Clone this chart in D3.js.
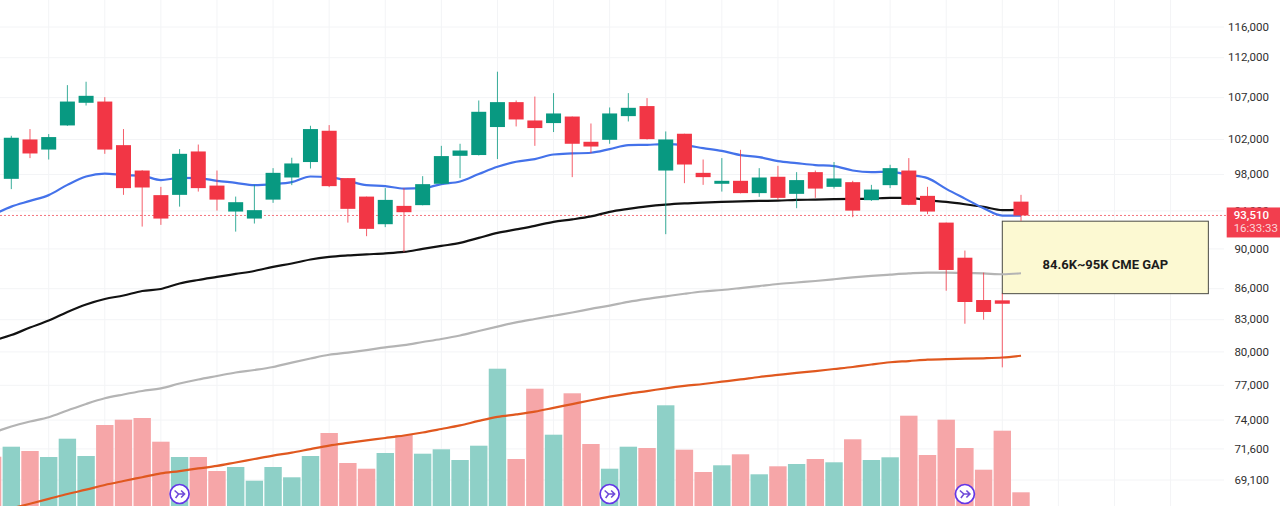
<!DOCTYPE html>
<html>
<head>
<meta charset="utf-8">
<script src="https://cdn.jsdelivr.net/npm/d3@7"></script>
<style>
  html, body { margin: 0; padding: 0; background: #fff; overflow: hidden; }
  text { font-family: Roboto, sans-serif; }
</style>
</head>
<body>
<div id="chart"></div>
<script>
var svgWidth = 1280;
var svgHeight = 506;

var green = "#089981";
var red = "#f23645";

// open, high, low, close per candle
var candles = [
  [97510, 102430, 96370, 102200], [102000, 103220, 99850, 100380], [100830, 102630, 99690, 102280],
  [103650, 108540, 103600, 106520], [106370, 108960, 106040, 107220], [106520, 107060, 100340, 100830],
  [101340, 103220, 95740, 96480], [98440, 98480, 92330, 96550], [95710, 96620, 92510, 93180],
  [95740, 100880, 94460, 100340], [100610, 101410, 96100, 96480], [96760, 98440, 94030, 95220],
  [93930, 95550, 91800, 94940], [93180, 96840, 92650, 94080], [95220, 98710, 94870, 98180],
  [97660, 99890, 96810, 99240], [99400, 103610, 98670, 103220], [103020, 103690, 96590, 96700],
  [97590, 97590, 92750, 94220], [95550, 95550, 91320, 92090], [92580, 96480, 92270, 95190],
  [94540, 96480, 89660, 93860], [94620, 97810, 94600, 96920], [96960, 101260, 96900, 100080],
  [100110, 101500, 97590, 100720], [100200, 106650, 100150, 105280], [103460, 110220, 99740, 106450],
  [106450, 106650, 103530, 104360], [104240, 107130, 101260, 103340], [103930, 107550, 102870, 105080],
  [104710, 104710, 97700, 101500], [101730, 103880, 100420, 101180], [101960, 105800, 101500, 105080],
  [104760, 107550, 104120, 105760], [105970, 106940, 102000, 102040], [98440, 102940, 91530, 102000],
  [102670, 102670, 97030, 99120], [98180, 99690, 96840, 97700], [96960, 99850, 96100, 97290],
  [97290, 100800, 95900, 95930], [95930, 98710, 95520, 97660], [97740, 98970, 95190, 95410],
  [95850, 98260, 94290, 97370], [98260, 98440, 95410, 96430], [96620, 99400, 96430, 97550],
  [97140, 97290, 93330, 94030], [95160, 96840, 95080, 96320], [96810, 99090, 96480, 98710],
  [98440, 99850, 94620, 94650], [95630, 96620, 93650, 93930], [92750, 92750, 85800, 87860],
  [89100, 89830, 82620, 84700], [84890, 87590, 83000, 83740], [84860, 85520, 78600, 84530],
  [95000, 95740, 92930, 93510]
].map(function(d, i) {
  return { i: i, open: d[0], high: d[1], low: d[2], close: d[3] };
});

// volume has no axis in the picture, so the units are arbitrary. First bar sits one slot left of candle 0
var volumes = [
  ["r", 49.3], ["g", 59.3], ["r", 55], ["g", 49], ["g", 67.3], ["g", 50], ["r", 81], ["r", 86.3], ["r", 88],
  ["r", 64.3], ["g", 49], ["r", 49], ["r", 35], ["g", 39], ["g", 25.3], ["g", 39], ["g", 28.7], ["g", 50],
  ["r", 73], ["r", 43], ["r", 37.3], ["g", 53], ["r", 71], ["g", 52.3], ["g", 56.7], ["g", 46], ["g", 60.3],
  ["g", 137.3], ["r", 47], ["r", 117.3], ["g", 71.3], ["r", 112.7], ["r", 62], ["g", 37.3], ["g", 59.3],
  ["r", 58], ["g", 100.7], ["r", 56.3], ["r", 34], ["g", 40.7], ["r", 51.7], ["g", 31.7], ["r", 39.7],
  ["g", 42], ["r", 47], ["g", 43.7], ["r", 66.7], ["g", 46], ["g", 48.7], ["r", 90.3], ["r", 51], ["r", 86.3],
  ["r", 58], ["r", 36.3], ["r", 75.3], ["r", 13.7]
].map(function(d, i) {
  return { i: i - 1, dir: d[0], vol: d[1] };
});

// moving averages, also starting one slot left of candle 0
var maBlue = [93570, 94460, 95080, 95710, 96840, 97770, 98100, 97930, 97850, 97370, 97620, 97590, 97290, 97070,
  96810, 96920, 97140, 97770, 97700, 97290, 96810, 96700, 96430, 96480, 96920, 97210, 98040, 98860, 99430, 99740,
  100260, 100380, 100460, 100880, 101340, 101380, 101460, 101340, 101000, 100680, 100200, 99970, 99510, 99280,
  99060, 98940, 98440, 98260, 98300, 97960, 97590, 96400, 95330, 94290, 93500, 93500];
var maBlack = [81040, 81560, 82260, 82920, 83740, 84460, 84990, 85330, 85770, 85970, 86510, 86860, 87160, 87460,
  87760, 88170, 88510, 88920, 89180, 89330, 89440, 89540, 89690, 90000, 90310, 90620, 91140, 91660, 92030, 92410,
  92830, 93090, 93410, 93900, 94220, 94490, 94680, 94810, 94900, 94970, 95030, 95080, 95110, 95190, 95220, 95270,
  95300, 95330, 95410, 95410, 95160, 94970, 94720, 94430, 94080, 94110];
var maGrey = [72920, 73460, 73880, 74240, 74820, 75380, 75870, 76200, 76500, 76740, 77160, 77520, 77830, 78140,
  78360, 78630, 79030, 79400, 79740, 79940, 80170, 80420, 80630, 80910, 81190, 81520, 81940, 82350, 82750, 83070,
  83380, 83690, 84030, 84350, 84710, 85000, 85250, 85500, 85720, 85870, 86060, 86260, 86460, 86610, 86760, 86930,
  87110, 87260, 87390, 87510, 87590, 87590, 87560, 87510, 87430, 87530];
var maOrange = [66540, 66890, 67250, 67620, 68000, 68340, 68710, 69020, 69320, 69620, 69810, 70020, 70220, 70500,
  70780, 71060, 71300, 71590, 71870, 72090, 72300, 72500, 72710, 72960, 73250, 73550, 73930, 74270, 74480, 74720,
  75040, 75370, 75700, 76010, 76280, 76500, 76740, 76950, 77120, 77320, 77520, 77740, 77920, 78100, 78270, 78450,
  78630, 78860, 79060, 79170, 79290, 79350, 79380, 79420, 79490, 79650];

var priceTicks = [116000, 112000, 107000, 102000, 98000, 94000, 90000, 86000, 83000, 80000, 77000, 74000, 71600, 69100];
var gridSlots = d3.range(2, 64, 3);
var eventSlots = [9, 32, 51];
var lastPrice = 93510;

var svg = d3.select("#chart")
  .append("svg")
  .attr("width", svgWidth)
  .attr("height", svgHeight)
  .style("display", "block");

// Create scale functions
var xScale = d3.scaleLinear().domain([0, 54]).range([11.3, 1021]);
var yScale = d3.scaleLog().domain([69100, 116000]).range([480, 27]);
var volScale = d3.scaleLinear().domain([0, 137]).range([506, 369]);

// Grid
svg.append("g").selectAll("line")
  .data(priceTicks)
  .enter()
  .append("line")
  .attr("x1", 0)
  .attr("x2", 1224)
  .attr("y1", d => yScale(d))
  .attr("y2", d => yScale(d))
  .attr("stroke", "#f3f4f6");

svg.append("g").selectAll("line")
  .data(gridSlots)
  .enter()
  .append("line")
  .attr("x1", d => xScale(d))
  .attr("x2", d => xScale(d))
  .attr("y1", 0)
  .attr("y2", svgHeight)
  .attr("stroke", "#f3f4f6");

// Volume bars
svg.append("g").selectAll("rect")
  .data(volumes)
  .enter()
  .append("rect")
  .attr("x", d => xScale(d.i) - 8.7)
  .attr("width", 17.4)
  .attr("y", d => volScale(d.vol))
  .attr("height", d => volScale(0) - volScale(d.vol))
  .attr("fill", d => d.dir === "g" ? "#8ed0c7" : "#f6a6a8");

// Last price line
svg.append("line")
  .attr("x1", 0)
  .attr("x2", 1227)
  .attr("y1", yScale(lastPrice))
  .attr("y2", yScale(lastPrice))
  .attr("stroke", "#f4747f")
  .attr("stroke-dasharray", "2,2");

// CME gap box
svg.append("rect")
  .attr("x", xScale(53))
  .attr("width", xScale(64.02) - xScale(53))
  .attr("y", yScale(92900))
  .attr("height", yScale(85510) - yScale(92900))
  .attr("fill", "#fcf9d2")
  .attr("stroke", "#4a4a44")
  .attr("stroke-width", 1);

// Moving averages
var line = d3.line()
  .x((d, i) => xScale(i - 1))
  .y(d => yScale(d))
  .curve(d3.curveMonotoneX);

[[maOrange, "#e0581f"], [maGrey, "#b4b4b4"], [maBlack, "#121212"], [maBlue, "#4472ea"]].forEach(function(ma) {
  svg.append("path")
    .attr("d", line(ma[0]))
    .attr("fill", "none")
    .attr("stroke", ma[1])
    .attr("stroke-width", 2.2);
});

// Candles
var candleGroup = svg.append("g").selectAll("g")
  .data(candles)
  .enter()
  .append("g")
  .attr("fill", d => d.close >= d.open ? green : red)
  .attr("stroke", d => d.close >= d.open ? green : red);

candleGroup.append("line")
  .attr("x1", d => xScale(d.i))
  .attr("x2", d => xScale(d.i))
  .attr("y1", d => yScale(d.high))
  .attr("y2", d => yScale(d.low))
  .attr("stroke-opacity", 0.8);

candleGroup.append("rect")
  .attr("x", d => xScale(d.i) - 7.5)
  .attr("width", 15)
  .attr("y", d => yScale(Math.max(d.open, d.close)))
  .attr("height", d => Math.abs(yScale(d.open) - yScale(d.close)))
  .attr("stroke", "none");

// Box label, sits a little under the middle of the box
svg.append("text")
  .attr("x", (xScale(53) + xScale(64.02)) / 2)
  .attr("y", (yScale(92900) + yScale(85510)) / 2 + 11.5)
  .attr("text-anchor", "middle")
  .attr("font-size", "13px")
  .attr("font-weight", 700)
  .attr("fill", "#1c1c1c")
  .text("84.6K~95K CME GAP");

// Event markers on the bottom of the volume pane
var eventGroup = svg.append("g").selectAll("g")
  .data(eventSlots)
  .enter()
  .append("g")
  .attr("transform", d => `translate(${xScale(d)}, 494)`);

eventGroup.append("circle")
  .attr("r", 9.5)
  .attr("fill", "#fff")
  .attr("stroke", "#6436e6")
  .attr("stroke-width", 1.7);

eventGroup.append("path")
  .attr("d", "M-5,-3.5 L-1,0 L5,0 M-4,4 L-1,0 M1.5,-3.5 L5,0 L1.5,3.5")
  .attr("fill", "none")
  .attr("stroke", "#6f4bd8")
  .attr("stroke-width", 1.6);

// Price axis
var rightAxis = d3.axisRight(yScale)
  .tickValues(priceTicks)
  .tickSize(0)
  .tickFormat(d3.format(","));

var axisGroup = svg.append("g")
  .attr("transform", "translate(1269, -0.5)")
  .call(rightAxis);

axisGroup.select(".domain").remove();
axisGroup.selectAll("text")
  .attr("x", 0)
  .attr("text-anchor", "end")
  .attr("font-size", "11.5px")
  .attr("font-family", "Roboto, sans-serif")
  .attr("fill", "#2f2f2f");

// Last price tag, it covers most of the 94,000 label as in the original
svg.append("rect")
  .attr("x", 1226.7)
  .attr("width", 53.3)
  .attr("y", yScale(lastPrice) - 8)
  .attr("height", 30)
  .attr("fill", "#f23e4e");

svg.append("text")
  .attr("x", 1269)
  .attr("y", yScale(lastPrice) + 4)
  .attr("text-anchor", "end")
  .attr("font-size", "11.5px")
  .attr("font-weight", 500)
  .attr("fill", "#fff")
  .text(d3.format(",")(lastPrice));

svg.append("text")
  .attr("x", 1278)
  .attr("y", yScale(lastPrice) + 17)
  .attr("text-anchor", "end")
  .attr("font-size", "11.5px")
  .attr("fill", "#fbd5d8")
  .text("16:33:33");
</script>
</body>
</html>
